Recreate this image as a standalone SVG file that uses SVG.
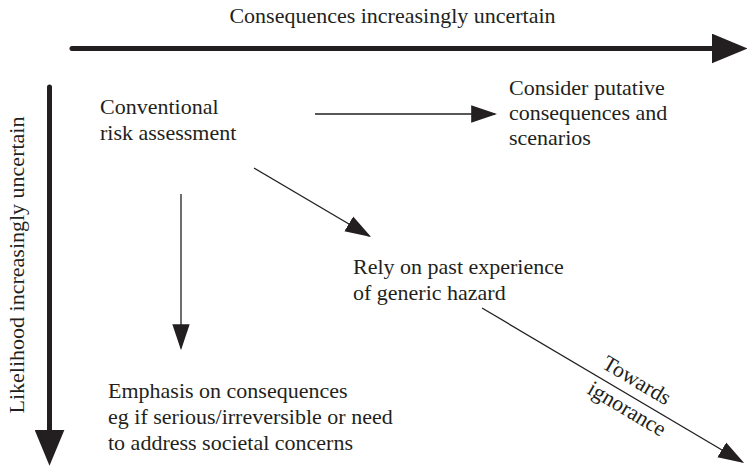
<svg xmlns="http://www.w3.org/2000/svg" width="747" height="473" viewBox="0 0 747 473">
  <defs>
    <style>
      .t { font-family: "Liberation Serif", "Times New Roman", serif; font-size: 22px; fill: #231f20; }
      .thin { stroke: #231f20; stroke-width: 1.3; fill: none; marker-end: url(#ah); }
      .thick { stroke: #231f20; stroke-width: 5; fill: none; stroke-linecap: round; marker-end: url(#bigah); }
    </style>
    <marker id="ah" markerUnits="userSpaceOnUse" markerWidth="26" markerHeight="18" viewBox="0 0 24 16" refX="22" refY="8" orient="auto">
      <path d="M0,0 L24,8 L0,16 z" fill="#231f20"/>
    </marker>
    <marker id="bigah" markerUnits="userSpaceOnUse" markerWidth="36" markerHeight="30" viewBox="0 0 35 29" refX="5" refY="14.5" orient="auto">
      <path d="M0,0 L35,14.5 L0,29 z" fill="#231f20"/>
    </marker>
  </defs>

  <g id="axes">
    <line class="thick" x1="72" y1="48.5" x2="717" y2="48.5"/>
    <line class="thick" x1="49.5" y1="87" x2="49.5" y2="435"/>
    <text id="x-axis-label" class="t" x="392.5" y="23" text-anchor="middle">Consequences increasingly uncertain</text>
    <text id="y-axis-label" class="t" transform="translate(24,265) rotate(-90)" text-anchor="middle">Likelihood increasingly uncertain</text>
  </g>

  <g id="connectors">
    <line class="thin" x1="315" y1="114" x2="495" y2="114"/>
    <line class="thin" x1="254" y1="168" x2="369.3" y2="236"/>
    <line class="thin" x1="181" y1="194" x2="181" y2="348"/>
    <line class="thin" x1="482" y1="308" x2="742.3" y2="462"/>
    <g id="edge-label" transform="translate(630.9,396.1) rotate(30.6)">
      <text class="t" x="-3" y="-9.5" text-anchor="middle">Towards</text>
      <text class="t" x="3" y="20" text-anchor="middle">ignorance</text>
    </g>
  </g>

  <g id="node-conventional">
    <text class="t" x="100" y="114">Conventional</text>
    <text class="t" x="100" y="140">risk assessment</text>
  </g>
  <g id="node-consider">
    <text class="t" x="509" y="95">Consider putative</text>
    <text class="t" x="509" y="120">consequences and</text>
    <text class="t" x="509" y="145">scenarios</text>
  </g>
  <g id="node-rely">
    <text class="t" x="353" y="274">Rely on past experience</text>
    <text class="t" x="353" y="300">of generic hazard</text>
  </g>
  <g id="node-emphasis">
    <text class="t" x="108" y="398">Emphasis on consequences</text>
    <text class="t" x="108" y="424">eg if serious/irreversible or need</text>
    <text class="t" x="108" y="450">to address societal concerns</text>
  </g>
</svg>
